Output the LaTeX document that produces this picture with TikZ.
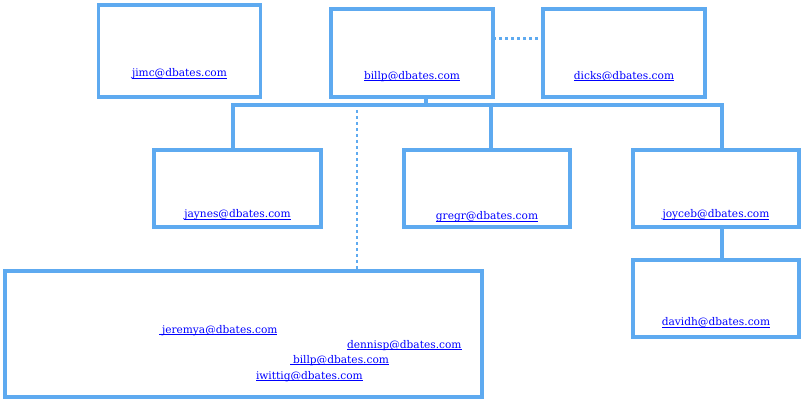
\documentclass[tikz,border=0pt]{standalone}
\usepackage{fontspec}
\newfontfamily\linkfont{DejaVu Serif}
\definecolor{boxblue}{RGB}{94,170,240}
\definecolor{linkblue}{RGB}{0,0,255}
\newcommand\lnk[1]{\setbox0\hbox{#1}\rlap{\rule[-1.6pt]{\wd0}{0.8pt}}\box0}
\begin{document}
\begin{tikzpicture}[x=1pt,y=-1pt,
  orgbox/.style={draw=boxblue,line width=3.5pt,fill=white,inner sep=0pt,outer sep=0pt},
  conn/.style={draw=boxblue,line width=3.5pt},
  dotconn/.style={draw=boxblue,line width=3pt,dash pattern=on 3pt off 3pt},
  vdotconn/.style={draw=boxblue,line width=2.5pt,dash pattern=on 3pt off 3pt},
  mail/.style={inner sep=0pt,outer sep=0pt,text=linkblue,font=\linkfont\fontsize{10.6}{12}\selectfont,anchor=base},
  mailw/.style={mail,anchor=base west}]
\useasboundingbox (0,0) rectangle (806,403);
% boxes
\node[orgbox,minimum width=162pt,minimum height=92pt] (jimc) at (179.5,51) {};
\node[orgbox,minimum width=162pt,minimum height=88pt] (billp) at (412,53) {};
\node[orgbox,minimum width=162pt,minimum height=88pt] (dicks) at (624,53) {};
\node[orgbox,minimum width=167pt,minimum height=77pt] (jaynes) at (237.5,188.5) {};
\node[orgbox,minimum width=166pt,minimum height=77pt] (gregr) at (487,188.5) {};
\node[orgbox,minimum width=166pt,minimum height=77pt] (joyceb) at (716,188.5) {};
\node[orgbox,minimum width=166pt,minimum height=77pt] (davidh) at (716,298.5) {};
\node[orgbox,minimum width=477pt,minimum height=126pt] (team) at (243.5,334) {};
% connectors
\coordinate (busL) at (233,105);
\coordinate (busM) at (426,105);
\coordinate (busG) at (491,105);
\coordinate (busR) at (722,105);
\coordinate (dotTop) at (357,110);
\draw[conn] (billp.south -| busM) -- (busM);
\draw[conn] (jaynes.north -| busL) -- (busL) -- (busR) -- (joyceb.north -| busR);
\draw[conn] (busG) -- (gregr.north -| busG);
\draw[conn] (joyceb.south -| busR) -- (davidh.north -| busR);
\draw[dotconn] ([yshift=14pt]billp.east) -- ([yshift=14pt]dicks.west);
\draw[vdotconn] (dotTop) -- (team.north -| dotTop);
% texts
\node[mail] (tjimc) at ([yshift=-26pt]jimc.center) {\lnk{jimc@dbates.com}};
\node[mail] (tbillp) at ([yshift=-26.5pt]billp.center) {\lnk{billp@dbates.com}};
\node[mail] (tdicks) at ([yshift=-26.5pt]dicks.center) {\lnk{dicks@dbates.com}};
\node[mail] (tjaynes) at ([yshift=-29.5pt]jaynes.center) {\lnk{jaynes@dbates.com}};
\node[mail] (tgregr) at ([yshift=-31.5pt]gregr.center) {\lnk{gregr@dbates.com}};
\node[mail] (tjoyceb) at ([yshift=-29.5pt]joyceb.center) {\lnk{joyceb@dbates.com}};
\node[mail] (tdavidh) at ([yshift=-27.5pt]davidh.center) {\lnk{davidh@dbates.com}};
\node[mailw] (tjeremya) at (159,333.5) {\lnk{\kern3pt jeremya@dbates.com}};
\node[mailw] (tdennisp) at (347,348.5) {\lnk{dennisp@dbates.com}};
\node[mailw] (tbillp2) at (290,363.5) {\lnk{\kern3pt billp@dbates.com}};
\node[mailw] (tiwittig) at (256,379) {\lnk{iwittig@dbates.com}};
\end{tikzpicture}
\end{document}
